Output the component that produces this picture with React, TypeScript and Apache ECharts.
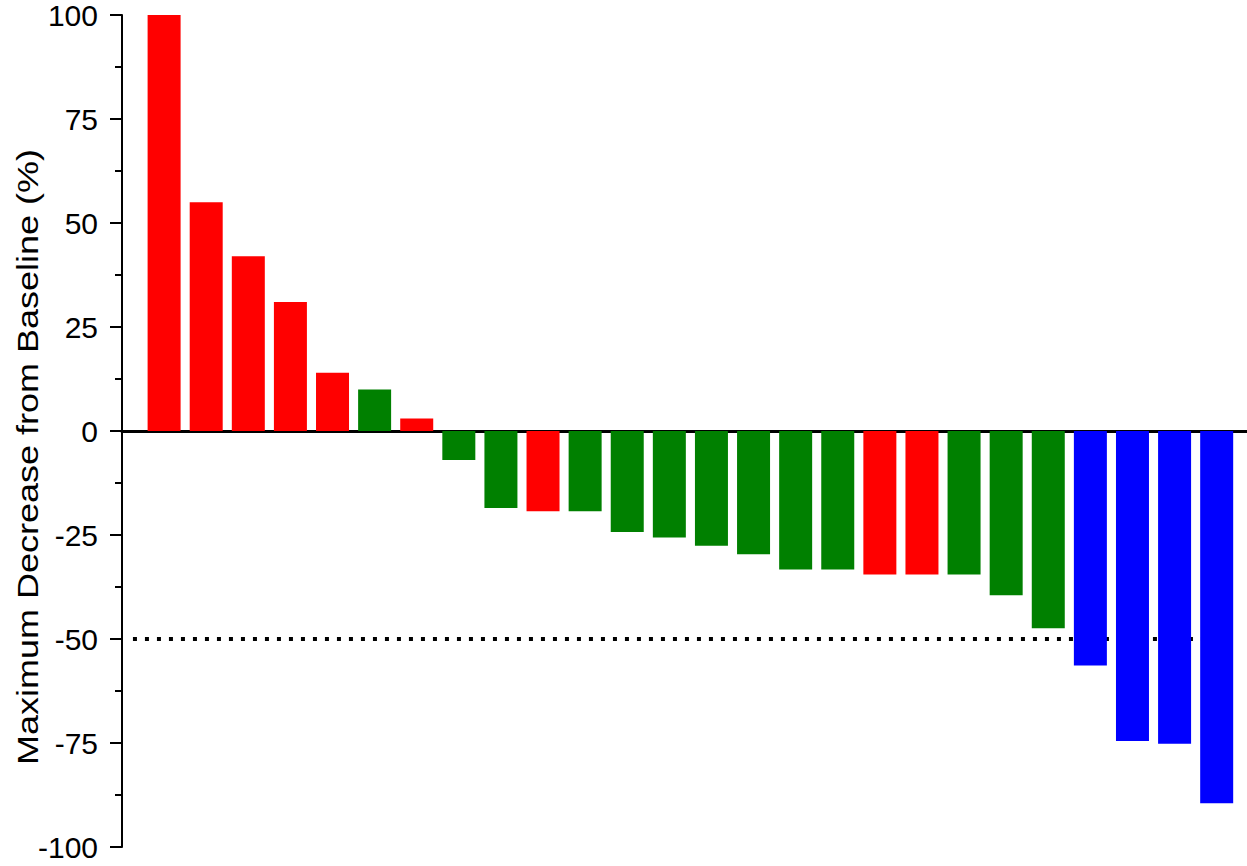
import React, { useEffect, useRef } from "react";
import * as echarts from "echarts";

// Waterfall of best percentage change from baseline, one bar per patient
const responses: string[] = [
  "PD", "PD", "PD", "PD", "PD", "SD", "PD", "SD", "SD", "PD",
  "SD", "SD", "SD", "SD", "SD", "SD", "SD", "PD", "PD", "SD",
  "SD", "SD", "PR", "PR", "PR", "PR",
];
const changes: number[] = [
  100, 55, 42, 31, 14, 10, 3, -7, -18.5, -19.3,
  -19.3, -24.3, -25.6, -27.6, -29.6, -33.3, -33.3, -34.5, -34.5, -34.5,
  -39.5, -47.4, -56.4, -74.5, -75.2, -89.5,
];
const responseColors: Record<string, string> = {
  PD: "#ff0000",
  SD: "#008000",
  PR: "#0000ff",
};
const yTicks: number[] = [-100, -75, -50, -25, 0, 25, 50, 75, 100];
const threshold = -50;
const thresholdSpan: number[] = [0.26, 25.72];

export default function App() {
  const ref = useRef<HTMLDivElement>(null);

  useEffect(() => {
    if (!ref.current) return;
    const chart = echarts.init(ref.current, null, { renderer: "svg" });

    const barData = changes.map((v, i) => ({
      value: [i + 1, v],
      itemStyle: { color: responseColors[responses[i]] },
    }));

    chart.setOption({
      animation: false,
      backgroundColor: "#ffffff",
      grid: { left: 122, right: 0, top: 15, bottom: 19, containLabel: false },
      xAxis: {
        type: "value",
        min: 0,
        max: 26.72,
        axisLine: { show: true, onZero: true, lineStyle: { color: "#000", width: 3 } },
        axisTick: { show: false },
        axisLabel: { show: false },
        splitLine: { show: false },
      },
      yAxis: {
        type: "value",
        min: yTicks[0],
        max: yTicks[yTicks.length - 1],
        interval: 25,
        axisLine: { show: true, onZero: false, lineStyle: { color: "#000", width: 2 } },
        axisTick: { show: true, length: 12, lineStyle: { color: "#000", width: 2 } },
        minorTick: { show: true, splitNumber: 2, length: 7, lineStyle: { color: "#000", width: 2 } },
        splitLine: { show: false },
        axisLabel: {
          color: "#000",
          fontFamily: "'Liberation Sans Narrow', 'Arial Narrow', 'Liberation Sans', sans-serif",
          fontSize: 30,
          margin: 24,
          padding: [8, 0, 0, 0],
        },
      },
      graphic: [
        {
          type: "text",
          x: 28,
          y: 457,
          rotation: Math.PI / 2,
          scaleY: 0.8,
          style: {
            text: "Maximum Decrease from Baseline (%)",
            fontFamily: "'Liberation Sans', Arial, sans-serif",
            fontSize: 36,
            fill: "#000",
            align: "center",
            verticalAlign: "middle",
          },
        },
      ],
      series: [
        {
          type: "line",
          z: 1,
          symbol: "none",
          silent: true,
          data: thresholdSpan.map((x) => [x, threshold]),
          lineStyle: { color: "#000", width: 4, type: [4, 8] },
        },
        {
          type: "bar",
          z: 2,
          barWidth: 33,
          data: barData,
        },
      ],
    });

    return () => chart.dispose();
  }, []);

  return (
    <div
      ref={ref}
      style={{ position: "absolute", left: 0, top: 0, width: 1247, height: 866 }}
    />
  );
}
